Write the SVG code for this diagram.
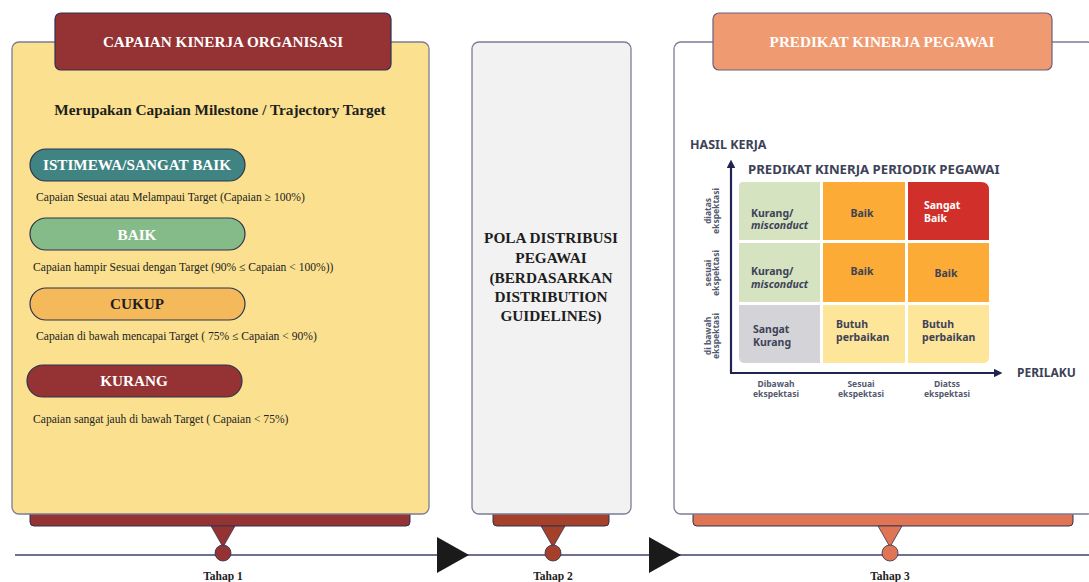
<svg xmlns="http://www.w3.org/2000/svg" width="1089" height="582" viewBox="0 0 1089 582">
<style>
.panel{stroke:#7a7d96;stroke-width:1.3}
.title{font-family:"Liberation Serif",serif;font-weight:bold;font-size:15.2px;fill:#fff;text-anchor:middle}
.pill{stroke:#2c3350;stroke-width:1.2}
.pilltxt{font-family:"Liberation Serif",serif;font-weight:bold;font-size:15.2px;text-anchor:middle}
.desc{font-family:"Liberation Serif",serif;font-size:11.6px;fill:#222}
.tahap{font-family:"Liberation Serif",serif;font-weight:bold;font-size:11.5px;fill:#222;text-anchor:middle}
.mid{font-family:"Liberation Serif",serif;font-weight:bold;font-size:15.3px;fill:#1e1e1e;text-anchor:middle}
.ch{font-family:"Noto Sans",sans-serif;font-weight:bold;fill:#3d4257}
.cell{font-family:"Noto Sans",sans-serif;font-weight:bold;font-size:10.5px;fill:#3d4257}
.ax{font-family:"Noto Sans",sans-serif;font-weight:bold;font-size:8.5px;fill:#555a6e;text-anchor:middle}
.bar{stroke:#2c3350;stroke-width:1}
</style>
<defs>
<marker id="ah" viewBox="0 0 10 10" refX="5" refY="5" markerWidth="4" markerHeight="4" orient="auto"><path d="M0,0 L10,5 L0,10 z" fill="#1f2550"/></marker>
</defs>

<!-- timeline connectors -->
<g id="connectors">
<line x1="15" y1="555" x2="1089" y2="555" stroke="#6e7290" stroke-width="2"/>
<polygon points="437,537 469,555 437,573" fill="#1a1a1a"/>
<polygon points="649,537 681,555 649,573" fill="#1a1a1a"/>
</g>

<!-- Stage 1 -->
<g id="tahap1">
<rect x="30" y="508" width="380" height="18" rx="4" fill="#943234" class="bar"/>
<polygon points="211,526 235,526 223,547" fill="#943234" stroke="#2c3350" stroke-width="0.8"/>
<circle cx="223" cy="553" r="8" fill="#943234" stroke="#2c3350" stroke-width="0.8"/>
<rect x="12" y="42" width="417" height="472" rx="7" fill="#fbe18f" class="panel"/>
<rect x="55" y="13" width="336" height="57" rx="6" fill="#943234" stroke="#2c3350" stroke-width="1.2"/>
<text x="223" y="47" class="title">CAPAIAN KINERJA ORGANISASI</text>
<text x="220" y="115" font-family="Liberation Serif,serif" font-weight="bold" font-size="15.3" fill="#1e1e1e" text-anchor="middle">Merupakan Capaian Milestone / Trajectory Target</text>
<rect x="30" y="149" width="215" height="32" rx="16" fill="#3f8482" class="pill"/>
<text x="137" y="170" class="pilltxt" fill="#fff">ISTIMEWA/SANGAT BAIK</text>
<text x="36" y="201" class="desc">Capaian Sesuai atau Melampaui Target (Capaian ≥ 100%)</text>
<rect x="30" y="218" width="215" height="32" rx="16" fill="#85bb88" class="pill"/>
<text x="137" y="240" class="pilltxt" fill="#fff">BAIK</text>
<text x="33" y="271" class="desc">Capaian hampir Sesuai dengan Target (90% ≤ Capaian  &lt; 100%))</text>
<rect x="30" y="288" width="215" height="32" rx="16" fill="#f4b95a" class="pill"/>
<text x="137" y="309" class="pilltxt" fill="#1e1e1e">CUKUP</text>
<text x="36" y="340" class="desc">Capaian di bawah mencapai Target ( 75% ≤ Capaian &lt; 90%)</text>
<rect x="27" y="365" width="215" height="32" rx="16" fill="#943234" class="pill"/>
<text x="134" y="386" class="pilltxt" fill="#fff">KURANG</text>
<text x="33" y="423" class="desc">Capaian sangat jauh di bawah Target ( Capaian &lt; 75%)</text>
<text x="223" y="580" class="tahap">Tahap 1</text>
</g>

<!-- Stage 2 -->
<g id="tahap2">
<rect x="493" y="508" width="116" height="18" rx="4" fill="#a5402a" class="bar"/>
<polygon points="541,526 565,526 553,547" fill="#a5402a" stroke="#2c3350" stroke-width="0.8"/>
<circle cx="553" cy="553" r="8" fill="#a5402a" stroke="#2c3350" stroke-width="0.8"/>
<rect x="472" y="42" width="159" height="472" rx="7" fill="#f2f2f2" class="panel"/>
<text x="551" y="243" class="mid">POLA DISTRIBUSI</text>
<text x="551" y="263" class="mid">PEGAWAI</text>
<text x="551" y="283" class="mid">(BERDASARKAN</text>
<text x="551" y="302" class="mid">DISTRIBUTION</text>
<text x="551" y="321" class="mid">GUIDELINES)</text>
<text x="553" y="580" class="tahap">Tahap 2</text>
</g>

<!-- Stage 3 -->
<g id="tahap3">
<rect x="693" y="508" width="380" height="18" rx="4" fill="#e07555" class="bar"/>
<polygon points="878,526 902,526 890,547" fill="#e07555" stroke="#2c3350" stroke-width="0.8"/>
<circle cx="890" cy="553" r="8" fill="#e07555" stroke="#2c3350" stroke-width="0.8"/>
<rect x="674" y="42" width="420" height="472" rx="7" fill="#ffffff" class="panel"/>
<rect x="713" y="13" width="339" height="57" rx="6" fill="#ef9a70" stroke="#6a6080" stroke-width="1.2"/>
<text x="882" y="47" class="title">PREDIKAT KINERJA PEGAWAI</text>
<text x="890" y="580" class="tahap">Tahap 3</text>

<g id="matrix">
<text x="690" y="149" class="ch" font-size="12.5">HASIL KERJA</text>
<text x="748" y="174" class="ch" font-size="13.2">PREDIKAT KINERJA PERIODIK PEGAWAI</text>
<!-- cells -->
<path d="M743,182 H820 V240 H739 V186 Q739,182 743,182 Z" fill="#d6e3c1"/>
<rect x="823" y="182" width="82" height="58" fill="#fbab36"/>
<path d="M908,182 H981 Q989,182 989,190 V240 H908 Z" fill="#d1302a"/>
<rect x="739" y="243" width="81" height="59" fill="#d6e3c1"/>
<rect x="823" y="243" width="82" height="59" fill="#fbab36"/>
<rect x="908" y="243" width="81" height="59" fill="#fbab36"/>
<path d="M739,305 H820 V363 H745 Q739,363 739,357 Z" fill="#d4d4d8"/>
<rect x="823" y="305" width="82" height="58" fill="#fde599"/>
<path d="M908,305 H989 V357 Q989,363 983,363 H908 Z" fill="#fde599"/>
<!-- axes -->
<line x1="731" y1="373" x2="731" y2="164" stroke="#1f2550" stroke-width="2.2" marker-end="url(#ah)"/>
<line x1="730" y1="373" x2="998" y2="373" stroke="#1f2550" stroke-width="2.2" marker-end="url(#ah)"/>
<text x="1017" y="377" class="ch" font-size="12">PERILAKU</text>
<!-- cell texts -->
<text x="751" y="217" class="cell">Kurang/</text>
<text x="751" y="229" class="cell" font-style="italic">misconduct</text>
<text x="862" y="217" class="cell" text-anchor="middle">Baik</text>
<text x="924" y="209" class="cell" style="fill:#fff">Sangat</text>
<text x="924" y="222" class="cell" style="fill:#fff">Baik</text>
<text x="751" y="275" class="cell">Kurang/</text>
<text x="751" y="288" class="cell" font-style="italic">misconduct</text>
<text x="862" y="275" class="cell" text-anchor="middle">Baik</text>
<text x="946" y="277" class="cell" text-anchor="middle">Baik</text>
<text x="753" y="333" class="cell">Sangat</text>
<text x="753" y="346" class="cell">Kurang</text>
<text x="836" y="328" class="cell">Butuh</text>
<text x="836" y="341" class="cell">perbaikan</text>
<text x="922" y="328" class="cell">Butuh</text>
<text x="922" y="341" class="cell">perbaikan</text>
<!-- x labels -->
<text x="776" y="387" class="ax">Dibawah</text>
<text x="776" y="397" class="ax">ekspektasi</text>
<text x="861" y="387" class="ax">Sesuai</text>
<text x="861" y="397" class="ax">ekspektasi</text>
<text x="947" y="387" class="ax">Diatss</text>
<text x="947" y="397" class="ax">ekspektasi</text>
<!-- y labels -->
<g transform="translate(711,211) rotate(-90)"><text x="0" y="0" class="ax" font-size="7">diatas</text><text x="0" y="8" class="ax" font-size="7">ekspektasi</text></g>
<g transform="translate(711,273) rotate(-90)"><text x="0" y="0" class="ax" font-size="7">sesuai</text><text x="0" y="8" class="ax" font-size="7">ekspektasi</text></g>
<g transform="translate(711,336) rotate(-90)"><text x="0" y="0" class="ax" font-size="7">di bawah</text><text x="0" y="8" class="ax" font-size="7">ekspektasi</text></g>
</g>
</g>
</svg>
